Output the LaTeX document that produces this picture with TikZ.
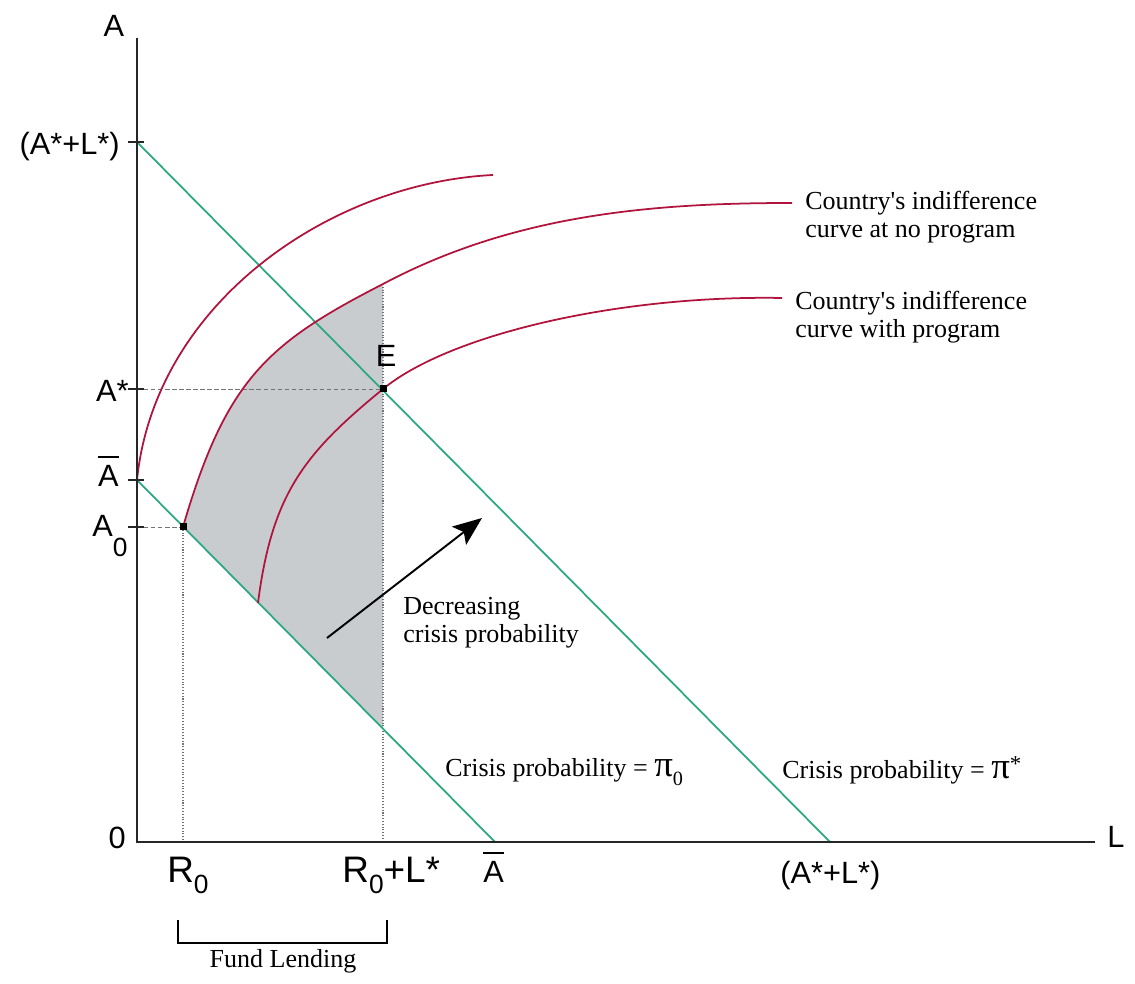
\documentclass[tikz,border=0pt]{standalone}
\usepackage{fontspec}
\setmainfont{Liberation Serif}
\newfontfamily\axisfont{Liberation Sans}
\usetikzlibrary{arrows.meta,positioning}
\definecolor{budgetgreen}{HTML}{2BA882}
\definecolor{curvered}{HTML}{B0143C}
\definecolor{shadegray}{HTML}{C8CCCF}
\newcommand{\abar}{\vbox{\hrule height 0.9pt\kern 4.5pt\hbox{A}}}
\newcommand{\lowzero}[1]{\raisebox{-#1}{\fontsize{15}{15}\selectfont 0}}

\begin{document}
\begin{tikzpicture}[x=0.02cm,y=0.02cm,
    axis/.style={line width=1.1pt,black!85},
    tick/.style={line width=0.8pt,black!85},
    budget/.style={line width=1pt,budgetgreen},
    indiff/.style={line width=1pt,curvered},
    hguide/.style={dash pattern=on 2.5pt off 1.5pt,line width=0.5pt,black!55},
    vguide/.style={densely dotted,line width=0.6pt,black!55},
    ticklbl/.style={font=\axisfont\fontsize{17.5}{18}\selectfont,inner sep=0pt},
    biglbl/.style={font=\axisfont\fontsize{21}{22}\selectfont,inner sep=0pt},
    note/.style={font=\fontsize{14.8}{15.9}\selectfont,align=left,inner sep=0pt},
    pt/.style={fill=black,minimum size=0.14cm,inner sep=0pt}
  ]
    \useasboundingbox (0,0) rectangle (1135,983);
    % key points of the diagram
    \coordinate (O) at (137,141);
    \coordinate (Atop) at (137,945);
    \coordinate (Lend) at (1095,141);
    \coordinate (ALy) at (137,841);
    \coordinate (ALx) at (830,141);
    \coordinate (Aby) at (137,503);
    \coordinate (Abx) at (495,141);
    \coordinate (Asy) at (137,594);
    \coordinate (A0y) at (137,456);
    \coordinate (E) at (383,594);
    \coordinate (P0) at (183,456);
    \coordinate (R0) at (183,141);
    \coordinate (R0L) at (383,141);
    \coordinate (shadeTop) at (383,699);
    \coordinate (shadeBot) at (intersection of Aby--Abx and R0L--shadeTop);
    % shaded area between the lending bounds
    \fill[shadegray] (P0) .. controls (226,604) and (268,640) .. (shadeTop)
      -- (shadeBot) -- cycle;
    \draw[hguide] (Asy) -- (E);
    \draw[hguide] (A0y) -- (P0);
    \draw[vguide] (P0) -- (R0);
    \draw[vguide] (shadeTop) -- (R0L);
    % budget lines
    \draw[budget] (ALy) -- (ALx);
    \draw[budget] (Aby) -- (Abx);
    % indifference curves
    \draw[indiff] (Aby) .. controls (155,680) and (330,800) .. (493,808);
    \draw[indiff] (P0) .. controls (226,604) and (268,640) .. (shadeTop)
      .. controls (513,768) and (650,780) .. (792,780);
    \draw[indiff] (258,380) .. controls (272,490) and (305,530) .. (E)
      .. controls (450,649) and (620,688) .. (782,685);
    % axes and ticks
    \draw[axis] (Atop) -- (O) -- (Lend);
    \foreach \yy in {841,594,503,456}
      \draw[tick] (128,\yy) -- (144,\yy);
    \node[pt] (ptE) at (E) {};
    \node[pt] (ptA0) at (P0) {};
    % axis labels
    \node[ticklbl,anchor=base] (labA) at (114,946) {A};
    \node[ticklbl,anchor=base west] (labL) at (1107,135) {L};
    \node[ticklbl,anchor=east] (lab0) at (126,145) {0};
    \node[ticklbl,anchor=base east] (labALy) at (120,828) {(A*+L*)};
    \node[ticklbl,anchor=base east] (labAs) at (129,581) {A*};
    \node[ticklbl,anchor=base east] (labAb) at (119,496) {\abar};
    \node[ticklbl,anchor=base east] (labA0) at (128,446) {A\lowzero{11pt}};
    \node[ticklbl,anchor=base] (labE) at (386,616) {E};
    \node[biglbl,anchor=base west] (labR0) at (167,100) {R\lowzero{6pt}};
    \node[biglbl,anchor=base west] (labR0L) at (342,100) {R\lowzero{6pt}+L*};
    \node[ticklbl,anchor=base west] (labAbx) at (483,100) {\abar};
    \node[ticklbl,anchor=base west] (labALx) at (780,99) {(A*+L*)};
    % notes
    \node[note,anchor=north west] (noProg) at (805,792)
      {Country\textquotesingle s indifference\\curve at no program};
    \node[note,anchor=north west] (withProg) at (795,692)
      {Country\textquotesingle s indifference\\curve with program};
    \node[note,anchor=north west] (decr) at (403,386)
      {Decreasing\\crisis probability};
    \node[note,anchor=base west] (pizero) at (445,206)
      {Crisis probability = {\fontsize{21}{21}\selectfont π}\raisebox{-5pt}{\fontsize{11.5}{12}\selectfont 0}};
    \node[note,anchor=base west] (pistar) at (782,204)
      {Crisis probability = {\fontsize{21}{21}\selectfont π}\raisebox{4pt}{\fontsize{13}{13}\selectfont *}};
    % arrow for falling crisis probability
    \coordinate (arrTail) at (327,345);
    \coordinate (arrTip) at (482,465);
    \draw[-{Stealth[length=0.58cm,width=0.46cm,inset=0.12cm]},line width=1.1pt] (arrTail) -- (arrTip);
    % fund lending bracket
    \coordinate (brL) at (178,63);
    \coordinate (brR) at (387,63);
    \draw[line width=0.8pt] (brL) -- (178,40) -- (387,40) -- (brR);
    \node[note,anchor=base] (fund) at (283,15) {Fund Lending};
  \end{tikzpicture}
\end{document}
